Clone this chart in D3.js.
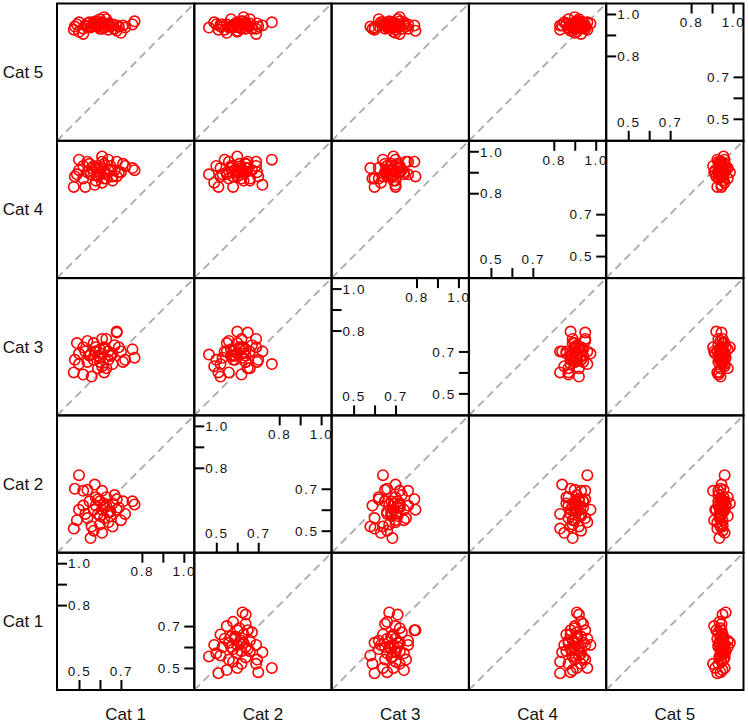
<!DOCTYPE html>
<html><head><meta charset="utf-8">
<script src="https://cdn.jsdelivr.net/npm/d3@7"></script>
<style>html,body{margin:0;padding:0;background:#fff;}svg{display:block;}</style>
</head><body><svg id="c" width="748" height="724"></svg>
<script>
const categories = ["Cat 1","Cat 2","Cat 3","Cat 4","Cat 5"];
const cat1 = [.765,.755,.500,.555,.475,.480,.520,.540,.575,.610,.630,.500,.490,.560,.610,.700,.590,.620,.640,.660,.600,.580,.650,.680,.680,.620,.600,.640,.570,.530,.670,.610,.590,.630,.720,.550,.660,.690,.600,.520,.710,.580,.650,.570,.620,.540];
const cat2 = [.625,.640,.765,.465,.510,.700,.690,.695,.720,.690,.660,.600,.550,.520,.490,.550,.580,.610,.590,.630,.640,.620,.570,.600,.650,.560,.530,.540,.600,.580,.670,.600,.650,.620,.580,.640,.520,.610,.570,.620,.640,.660,.590,.500,.630,.560];
const cat3 = [.670,.710,.640,.685,.600,.660,.720,.650,.700,.760,.620,.690,.740,.580,.630,.700,.680,.710,.660,.690,.650,.720,.680,.795,.790,.600,.670,.700,.740,.700,.730,.690,.620,.760,.660,.680,.640,.720,.710,.590,.650,.700,.680,.660,.720,.750];
const cat4 = [.910,.920,.960,.890,.830,.880,.930,.900,.840,.950,.870,.910,.890,.920,.850,.900,.880,.940,.910,.860,.900,.920,.930,.880,.950,.870,.890,.960,.900,.830,.910,.975,.920,.890,.930,.940,.880,.900,.920,.870,.940,.860,.910,.930,.900,.950];
const cat5 = [.965,.950,.960,.935,.925,.940,.905,.955,.945,.930,.975,.915,.950,.940,.960,.910,.945,.935,.955,.950,.930,.965,.940,.920,.945,.935,.950,.925,.960,.945,.930,.955,.940,.950,.935,.960,.950,.940,.975,.930,.945,.955,.940,.950,.985,.940];
const series = [cat1,cat2,cat3,cat4,cat5];
const domain = [0.395, 1.05];
const leftTicks = [0.8,0.9,1.0], topTicks = [0.8,0.9,1.0];
const rightTicks = [0.5,0.6,0.7], bottomTicks = [0.5,0.6,0.7];
const labelled = [0.5,0.7,0.8,1.0];

const svg = d3.select("#c");
const L = 57, T = 3.5, S = 137.3, N = categories.length;
const fmt = d => labelled.some(v => Math.abs(v-d)<1e-9) ? d3.format(".1f")(d) : "";
const font = "'Liberation Sans', Arial, sans-serif";

svg.append("defs").selectAll("clipPath").data(d3.range(N*N)).join("clipPath")
  .attr("id", d=>"cp"+d).append("rect")
  .attr("x", d => L + (d%N)*S).attr("y", d => T + Math.floor(d/N)*S)
  .attr("width", S).attr("height", S);

for (let r = 0; r < N; r++) {
  for (let j = 0; j < N; j++) {
    const vi = N-1-r; // y variable
    const x0 = L + j*S, y0 = T + r*S;
    const x = d3.scaleLinear().domain(domain).range([x0, x0+S]);
    const y = d3.scaleLinear().domain(domain).range([y0+S, y0]);
    const g = svg.append("g");
    if (j === vi) {
      const style = sel => { sel.select(".domain").remove();
        sel.selectAll("line").attr("stroke","#000").attr("stroke-width",2);
        sel.selectAll("text").attr("font-family",font).attr("font-size",13.5)
          .attr("letter-spacing","1.6px").attr("fill","#111"); };
      const gl = g.append("g").attr("transform",`translate(${x0},0)`)
        .call(d3.axisLeft(y).tickValues(leftTicks).tickSize(-10).tickFormat(fmt)).call(style);
      gl.selectAll("text").attr("x",11).attr("dy","0.35em").attr("text-anchor","start");
      const gr = g.append("g").attr("transform",`translate(${x0+S},0)`)
        .call(d3.axisRight(y).tickValues(rightTicks).tickSize(-10).tickFormat(fmt)).call(style);
      gr.selectAll("text").attr("x",-13).attr("dy","0.35em").attr("text-anchor","end");
      const gt = g.append("g").attr("transform",`translate(0,${y0})`)
        .call(d3.axisTop(x).tickValues(topTicks).tickSize(-10).tickFormat(fmt)).call(style);
      gt.selectAll("text").attr("y",19).attr("dy","0.35em").attr("text-anchor","middle");
      const gb = g.append("g").attr("transform",`translate(0,${y0+S})`)
        .call(d3.axisBottom(x).tickValues(bottomTicks).tickSize(-10).tickFormat(fmt)).call(style);
      gb.selectAll("text").attr("y",-19).attr("dy","0.35em").attr("text-anchor","middle");
    } else {
      const pg = g.append("g").attr("clip-path", `url(#cp${r*N+j})`);
      pg.append("line").attr("x1", x(domain[0])).attr("y1", y(domain[0]))
        .attr("x2", x(domain[1])).attr("y2", y(domain[1]))
        .attr("stroke","#aaaaaa").attr("stroke-width",1.8).attr("stroke-dasharray","8,5");
      const pts = series[j].map((v,i) => [v, series[vi][i]]);
      pg.selectAll("circle").data(pts).join("circle")
        .attr("cx", d => x(d[0])).attr("cy", d => y(d[1])).attr("r", 5.2)
        .attr("fill","none").attr("stroke","#ff0000").attr("stroke-width",1.6);
    }
    g.append("rect").attr("x",x0).attr("y",y0).attr("width",S).attr("height",S)
      .attr("fill","none").attr("stroke","#000").attr("stroke-width",2);
  }
}
svg.selectAll("text.rl").data(categories).join("text").attr("class","rl")
  .attr("x", 23).attr("y", (d,i) => T + (N-1-i)*S + S/2)
  .attr("dy","0.35em").attr("text-anchor","middle")
  .attr("font-family",font).attr("font-size",17).attr("fill","#111").text(d=>d);
svg.selectAll("text.cl").data(categories).join("text").attr("class","cl")
  .attr("x", (d,i) => L + i*S + S/2).attr("y", 714)
  .attr("dy","0.35em").attr("text-anchor","middle")
  .attr("font-family",font).attr("font-size",17).attr("fill","#111").text(d=>d);
</script></body></html>
